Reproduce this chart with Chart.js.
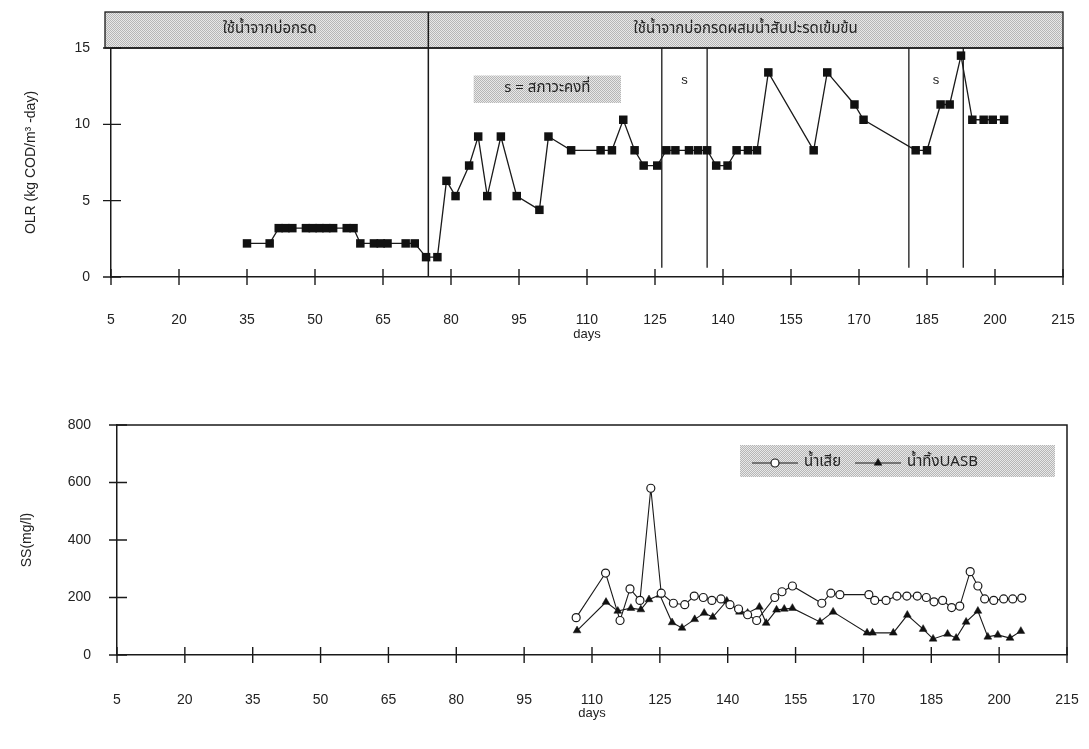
<!DOCTYPE html>
<html>
<head>
<meta charset="utf-8">
<title>OLR และ SS</title>
<script src="https://cdn.jsdelivr.net/npm/chart.js@4.4.1/dist/chart.umd.min.js"></script>
<style>
  body { margin: 0; background: #fff; }
  canvas { position: absolute; left: 0; }
  #olrChart { top: 0; }
  #ssChart { top: 375px; }
</style>
</head>
<body>
<canvas id="olrChart" width="1089" height="375"></canvas>
<canvas id="ssChart" width="1089" height="374"></canvas>
<script>
// OLR (kg COD/m3-day) by day of operation
const olrDays = [35, 40, 42, 43.5, 45, 48, 49.5, 51, 52.5, 54, 57, 58.5, 60, 63, 64.5, 66, 70, 72, 74.5, 77,
    79, 81, 84, 86, 88, 91, 94.5, 99.5, 101.5, 106.5, 113, 115.5, 118, 120.5, 122.5, 125.5,
    127.5, 129.5, 132.5, 134.5, 136.5, 138.5, 141, 143, 145.5, 147.5, 150, 160, 163, 169, 171,
    182.5, 185, 188, 190, 192.5, 195, 197.5, 199.5, 202];
const olrValues = [2.2, 2.2, 3.2, 3.2, 3.2, 3.2, 3.2, 3.2, 3.2, 3.2, 3.2, 3.2, 2.2, 2.2, 2.2, 2.2, 2.2, 2.2, 1.3, 1.3,
    6.3, 5.3, 7.3, 9.2, 5.3, 9.2, 5.3, 4.4, 9.2, 8.3, 8.3, 8.3, 10.3, 8.3, 7.3, 7.3,
    8.3, 8.3, 8.3, 8.3, 8.3, 7.3, 7.3, 8.3, 8.3, 8.3, 13.4, 8.3, 13.4, 11.3, 10.3,
    8.3, 8.3, 11.3, 11.3, 14.5, 10.3, 10.3, 10.3, 10.3];

// SS (mg/l) of the raw wastewater and the UASB effluent
const ssInDays = [106.5, 113, 116.2, 118.4, 120.6, 123, 125.3, 128, 130.5, 132.6, 134.6, 136.5, 138.5, 140.5,
    142.4, 144.4, 146.4, 150.4, 152, 154.3, 160.8, 162.8, 164.8, 171.2, 172.5, 175, 177.4, 179.6,
    181.9, 183.9, 185.6, 187.5, 189.5, 191.3, 193.6, 195.3, 196.8, 198.8, 201, 203, 205];
const ssInValues = [130, 285, 120, 230, 190, 580, 215, 180, 175, 205, 200, 190, 195, 175,
    160, 140, 120, 200, 220, 240, 180, 215, 210, 210, 190, 190, 205, 205,
    205, 200, 185, 190, 165, 170, 290, 240, 195, 190, 195, 195, 198];
const ssOutDays = [106.7, 113.1, 115.7, 118.6, 120.8, 122.6, 125, 127.7, 129.9, 132.7, 134.8, 136.7, 139.8,
    142.6, 144.4, 147, 148.5, 150.8, 152.5, 154.3, 160.4, 163.3, 170.8, 172, 176.6, 179.7,
    183.2, 185.4, 188.6, 190.5, 192.7, 195.3, 197.5, 199.7, 202.4, 204.8];
const ssOutValues = [85, 184, 153, 163, 158, 193, 209, 113, 94, 124, 146, 132, 188,
    150, 146, 167, 111, 157, 160, 163, 115, 150, 77, 77, 77, 139,
    90, 56, 73, 59, 115, 153, 63, 70, 59, 83];
const ssLabels = ['น้ำเสีย', 'น้ำทิ้งUASB'];

// axes
const dayMin = 5, dayMax = 215, dayStep = 15;

// feed phases in the header band, and the steady-state windows
const phaseLabels = ['ใช้น้ำจากบ่อกรด', 'ใช้น้ำจากบ่อกรดผสมน้ำสับปะรดเข้มข้น'];
const phaseChange = 75;
const steadyLines = [126.5, 136.5, 181, 193];
const steadyNote = 's = สภาวะคงที่';

const ink = '#1a1a1a';
const textCol = '#222';
const latin = "'Liberation Sans', Arial, sans-serif";
const thai = "'Noto Sans Thai', 'Noto Looped Thai', Loma, Garuda, 'Tlwg Typo', 'Liberation Sans', sans-serif";

function stipple(ctx) {
    const c = document.createElement('canvas');
    c.width = 2; c.height = 2;
    const g = c.getContext('2d');
    g.fillStyle = '#e8e8e8';
    g.fillRect(0, 0, 2, 2);
    g.fillStyle = '#b6b6b6';
    g.fillRect(0, 0, 1, 1);
    g.fillRect(1, 1, 1, 1);
    return ctx.createPattern(c, 'repeat');
}

// ticks that cross the axis line, plus the top/right frame
const crossTicks = {
    id: 'crossTicks',
    afterDraw(chart) {
        const { ctx, chartArea: a, scales: { x, y } } = chart;
        ctx.save();
        ctx.strokeStyle = ink;
        ctx.lineWidth = 1.4;
        ctx.beginPath();
        x.ticks.forEach(t => {
            const px = x.getPixelForValue(t.value);
            ctx.moveTo(px, a.bottom - 8);
            ctx.lineTo(px, a.bottom + 8);
        });
        y.ticks.forEach(t => {
            const py = y.getPixelForValue(t.value);
            ctx.moveTo(a.left - 8, py);
            ctx.lineTo(a.left + 10, py);
        });
        ctx.stroke();
        ctx.lineWidth = 1.5;
        ctx.beginPath();
        ctx.moveTo(a.left, a.top);
        ctx.lineTo(a.right, a.top);
        ctx.lineTo(a.right, a.bottom);
        ctx.stroke();
        ctx.restore();
    }
};

// header band with the two feed phases, phase divider and steady-state markers
const phases = {
    id: 'phases',
    beforeDatasetsDraw(chart) {
        const { ctx, chartArea: a, scales: { x, y } } = chart;
        const top = 12;
        ctx.save();
        ctx.fillStyle = stipple(ctx);
        ctx.fillRect(a.left - 6, top, a.right - a.left + 6, a.top - top);
        ctx.strokeStyle = ink;
        ctx.lineWidth = 1.3;
        ctx.strokeRect(a.left - 6, top, a.right - a.left + 6, a.top - top);

        const xc = x.getPixelForValue(phaseChange);
        ctx.lineWidth = 1.5;
        ctx.beginPath();
        ctx.moveTo(xc, top);
        ctx.lineTo(xc, a.bottom);
        ctx.stroke();

        ctx.lineWidth = 1.3;
        ctx.beginPath();
        steadyLines.forEach(d => {
            const px = x.getPixelForValue(d);
            ctx.moveTo(px, a.top);
            ctx.lineTo(px, y.getPixelForValue(0.6));
        });
        ctx.stroke();

        ctx.fillStyle = textCol;
        ctx.textAlign = 'center';
        ctx.textBaseline = 'middle';
        ctx.font = '15px ' + thai;
        const midY = (top + a.top) / 2;
        ctx.fillText(phaseLabels[0], (a.left + xc) / 2, midY);
        ctx.fillText(phaseLabels[1], (xc + a.right) / 2, midY);

        ctx.font = '13px ' + latin;
        for (let i = 0; i < steadyLines.length; i += 2) {
            const mid = (steadyLines[i] + steadyLines[i + 1]) / 2;
            ctx.fillText('s', x.getPixelForValue(mid), y.getPixelForValue(12.9));
        }

        // key for the "s" marks
        const bx0 = x.getPixelForValue(85), bx1 = x.getPixelForValue(117.5);
        const by0 = y.getPixelForValue(13.2), by1 = y.getPixelForValue(11.4);
        ctx.fillStyle = stipple(ctx);
        ctx.fillRect(bx0, by0, bx1 - bx0, by1 - by0);
        ctx.fillStyle = textCol;
        ctx.font = '15px ' + thai;
        ctx.fillText(steadyNote, (bx0 + bx1) / 2, (by0 + by1) / 2);
        ctx.restore();
    }
};

// legend box inside the SS plot
const ssLegend = {
    id: 'ssLegend',
    afterDraw(chart) {
        const { ctx, chartArea: a } = chart;
        const left = a.right - 327, right = a.right - 12;
        const top = 70, bottom = 102, cy = 88;
        ctx.save();
        ctx.fillStyle = stipple(ctx);
        ctx.fillRect(left, top, right - left, bottom - top);
        ctx.font = '15px ' + thai;
        ctx.textBaseline = 'middle';
        let px = left + 12;
        chart.data.datasets.forEach(ds => {
            ctx.strokeStyle = ink;
            ctx.lineWidth = 1.1;
            ctx.beginPath();
            ctx.moveTo(px, cy);
            ctx.lineTo(px + 46, cy);
            ctx.stroke();
            ctx.fillStyle = ds.pointBackgroundColor;
            ctx.lineWidth = ds.pointBorderWidth;
            Chart.helpers.drawPoint(ctx, { pointStyle: ds.pointStyle, radius: ds.pointRadius, rotation: 0, borderWidth: ds.pointBorderWidth }, px + 23, cy);
            ctx.fillStyle = textCol;
            ctx.fillText(ds.label, px + 52, cy);
            px += 52 + ctx.measureText(ds.label).width + 14;
        });
        ctx.restore();
    }
};

// tick labels sit well below the axis: an invisible tick mark makes the gap
function dayAxis(gap, titlePad) {
    return {
        type: 'linear',
        min: dayMin,
        max: dayMax,
        ticks: { stepSize: dayStep, padding: 2, color: textCol, font: { family: latin, size: 14 } },
        grid: { drawOnChartArea: false, drawTicks: true, tickLength: gap - 2, tickColor: 'rgba(0,0,0,0)' },
        border: { color: ink, width: 1.5 },
        title: { display: true, text: 'days', color: textCol, padding: { top: 0, bottom: titlePad }, font: { family: latin, size: 13 } },
        afterFit: s => { s.height = 70; }
    };
}

function valueAxis(max, step, title, tickPad, titlePad, width) {
    return {
        min: 0,
        max: max,
        ticks: { stepSize: step, padding: tickPad, color: textCol, font: { family: latin, size: 14 } },
        grid: { drawOnChartArea: false, drawTicks: false },
        border: { color: ink, width: 1.5 },
        title: { display: true, text: title, color: textCol, padding: { top: titlePad, bottom: 0 }, font: { family: latin, size: 14 } },
        afterFit: s => { s.width = width; }
    };
}

new Chart(document.getElementById('olrChart'), {
    type: 'line',
    data: {
        datasets: [{
            label: 'OLR',
            data: olrDays.map((d, i) => ({ x: d, y: olrValues[i] })),
            borderColor: ink,
            borderWidth: 1.3,
            pointStyle: 'rect',
            pointRadius: 6,
            pointBackgroundColor: '#111',
            pointBorderColor: '#111',
            pointBorderWidth: 0,
            tension: 0
        }]
    },
    options: {
        responsive: false,
        animation: false,
        layout: { padding: { top: 48, right: 26, bottom: 28, left: 0 } },
        plugins: { legend: { display: false }, tooltip: { enabled: false } },
        scales: {
            x: dayAxis(35, 5),
            y: valueAxis(15, 5, 'OLR (kg COD/m³ -day)', 21, 23, 111)
        }
    },
    plugins: [phases, crossTicks]
});

new Chart(document.getElementById('ssChart'), {
    type: 'line',
    data: {
        datasets: [{
            label: ssLabels[0],
            data: ssInDays.map((d, i) => ({ x: d, y: ssInValues[i] })),
            borderColor: ink,
            borderWidth: 1.1,
            pointStyle: 'circle',
            pointRadius: 4,
            pointBackgroundColor: '#fff',
            pointBorderColor: ink,
            pointBorderWidth: 1.2,
            tension: 0
        }, {
            label: ssLabels[1],
            data: ssOutDays.map((d, i) => ({ x: d, y: ssOutValues[i] })),
            borderColor: ink,
            borderWidth: 1.1,
            pointStyle: 'triangle',
            pointRadius: 4.5,
            pointBackgroundColor: '#111',
            pointBorderColor: '#111',
            pointBorderWidth: 0.5,
            tension: 0
        }]
    },
    options: {
        responsive: false,
        animation: false,
        layout: { padding: { top: 50, right: 22, bottom: 24, left: 0 } },
        plugins: { legend: { display: false }, tooltip: { enabled: false } },
        scales: {
            x: dayAxis(37, 4),
            y: valueAxis(800, 200, 'SS(mg/l)', 26, 19, 117)
        }
    },
    plugins: [crossTicks, ssLegend]
});
</script>
</body>
</html>
